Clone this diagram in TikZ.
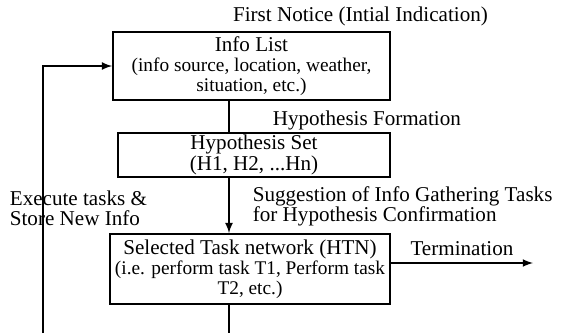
\documentclass[tikz,border=0pt]{standalone}
\usepackage{fontspec}
\setmainfont{Liberation Serif}
\usepackage{tikz}
\usetikzlibrary{arrows.meta}
\usetikzlibrary{positioning}
\newcommand{\parenfont}{\fontsize{11}{11.5}\selectfont}

\begin{document}
\begin{tikzpicture}[-,>=latex,line width=1pt,node distance=1.78cm,
	box node/.style={rectangle, draw, align=center, inner sep=1pt, font=\fontsize{12}{11.5}\selectfont},
	note/.style={align=left, inner sep=0pt, font=\fontsize{12}{11.5}\selectfont}]
			\useasboundingbox (0,0) rectangle (11.22,-6.66);
			% Boxes
			\node [box node, minimum width=5.54cm, minimum height=1.36cm] (info) at (5.03,-1.32) {Info List\\ \parenfont (info source, location, weather,\\ \parenfont situation, etc.)};
			\node [box node, minimum width=5.44cm, minimum height=0.88cm] (hyp) [below of=info, xshift=0.05cm] {Hypothesis Set\\ (H1, H2, ...Hn)};
			\node [box node, minimum width=5.60cm, minimum height=1.40cm] (sel) [below of=hyp, xshift=-0.08cm, yshift=-0.5cm] {Selected Task network (HTN)\\ \parenfont (i.e. perform task T1, Perform task\\ \parenfont T2, etc.)};
			
			% Free ends
			\coordinate (spine) at (4.58,0);
			\coordinate (bottom) at (0,-6.66);
			\coordinate (loop) at (0.86,-6.66);
			\coordinate (term) at (10.66,-5.26);
			
			\node [note] (notice) at (7.21,-0.33) {First Notice (Intial Indication)};
			\node [note, anchor=west] (exec) at (0.18,-4.16) {Execute tasks \&\\Store New Info};
			
			\path[every node/.style={note}]
			(spine |- info.south)
			edge node[right, xshift=0.86cm, yshift=-0.08cm] {Hypothesis Formation} (spine |- hyp.north)
			
			(spine |- hyp.south)
			edge[->] node[right, xshift=0.46cm, yshift=-0.02cm] {Suggestion of Info Gathering Tasks\\for Hypothesis Confirmation} (spine |- sel.north)
			
			(spine |- sel.south)
			edge (spine |- bottom)
			
			([yshift=0.12cm]sel.east)
			edge[->] node[above, yshift=0.12cm] {Termination} (term);
			
			\draw[->] (loop) |- (info.west);
			
		\end{tikzpicture}
\end{document}
